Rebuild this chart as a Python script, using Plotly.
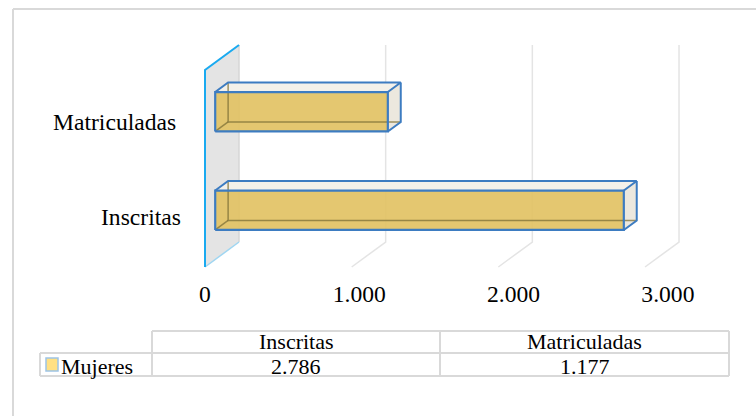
import plotly.graph_objects as go

# ---------------- data ----------------
categories = ["Inscritas", "Matriculadas"]
values = [2786, 1177]
series_name = "Mujeres"
x_ticks = [0, 1000, 2000, 3000]

# ---------------- geometry (pixels) ----------------
W, H = 756, 416
X0_PX = 205.0          # value 0 on the front plane
PX_PER_UNIT = 0.14667  # pixels per value unit
LABEL_PX_PER_UNIT = 0.1543  # spacing of the value labels
FLOOR_PX = 267.0       # front floor edge
PX_PER_CAT = 98.5      # pixels per category band
DEPTH_DX_PX = 34.0
DEPTH_DY_PX = 25.0
DX = DEPTH_DX_PX / PX_PER_UNIT
DY = DEPTH_DY_PX / PX_PER_CAT
BAR_HALF = 0.2
D_FRONT, D_BACK = 0.3, 0.68

FONT = "Liberation Serif, Times New Roman, serif"
FS = 23.6
FS_TABLE = 22

GOLD = "rgba(225,193,96,0.9)"
TOP = "#f4f1ea"
SIDE = "#ece8de"
BLUE = "#3d7cc1"
OLIVE = "rgba(125,112,55,0.75)"
GRID = "#e4e4e4"
BORDER = "#d9d9d9"


def P(v, c, d):
    return (v + d * DX, c + d * DY)


fig = go.Figure()


def poly(pts, fill):
    xs = [p[0] for p in pts] + [pts[0][0]]
    ys = [p[1] for p in pts] + [pts[0][1]]
    fig.add_trace(go.Scatter(x=xs, y=ys, mode="none", fill="toself", fillcolor=fill,
                             hoverinfo="skip", showlegend=False))


def seg(pts, color, width):
    fig.add_trace(go.Scatter(x=[p[0] for p in pts], y=[p[1] for p in pts], mode="lines",
                             line=dict(color=color, width=width), hoverinfo="skip",
                             showlegend=False))


ncat = len(categories)

# side wall
poly([P(0, 0, 0), P(0, 0, 1), P(0, ncat, 1), P(0, ncat, 0)], "#e4e4e4")
seg([P(0, 0, 1), P(0, ncat, 1)], "#d6d6d6", 1.5)
seg([P(0, 0, 0), P(0, 0, 1)], "#9fd6f2", 1.5)
seg([P(0, ncat, 1), P(0, ncat, 0), P(0, 0, 0)], "#1aaaf0", 2)

# gridlines (back wall + floor)
for t in x_ticks[1:]:
    seg([P(t, ncat, 1), P(t, 0, 1), P(t, 0, 0)], GRID, 1.5)

# bars
for i, (cat, v) in enumerate(zip(categories, values)):
    c0, c1 = i + 0.5 - BAR_HALF, i + 0.5 + BAR_HALF
    poly([P(0, c1, D_FRONT), P(0, c1, D_BACK), P(v, c1, D_BACK), P(v, c1, D_FRONT)], TOP)
    poly([P(v, c0, D_FRONT), P(v, c1, D_FRONT), P(v, c1, D_BACK), P(v, c0, D_BACK)], SIDE)
    poly([P(0, c0, D_FRONT), P(v, c0, D_FRONT), P(v, c1, D_FRONT), P(0, c1, D_FRONT)], GOLD)
    seg([P(0, c1, D_BACK), P(0, c0, D_BACK), P(v, c0, D_BACK)], OLIVE, 1.5)
    seg([P(0, c0, D_FRONT), P(0, c0, D_BACK)], OLIVE, 1.5)
    seg([P(0, c1, D_FRONT), P(0, c1, D_BACK), P(v, c1, D_BACK), P(v, c1, D_FRONT)], BLUE, 2)
    seg([P(v, c1, D_BACK), P(v, c0, D_BACK), P(v, c0, D_FRONT)], BLUE, 2)
    seg([P(0, c0, D_FRONT), P(v, c0, D_FRONT), P(v, c1, D_FRONT), P(0, c1, D_FRONT),
         P(0, c0, D_FRONT)], BLUE, 2.2)


def px(x):
    return x / W


def py(y):
    return 1 - y / H


annotations = []
cat_label_pos = {"Inscritas": (183, 217), "Matriculadas": (178, 122)}
for cat in categories:
    xr, yc = cat_label_pos[cat]
    annotations.append(dict(x=px(xr), y=py(yc), xref="paper", yref="paper",
                            text=cat, showarrow=False, xanchor="right", yanchor="middle",
                            font=dict(family=FONT, size=FS, color="black")))

# data table
tx = [40, 152, 440, 729]
ty = [331, 353, 376]
HEADER_Y, ROW_Y = 341, 366
shapes = []


def line(x0, y0, x1, y1, color=BORDER, w=2):
    shapes.append(dict(type="line", xref="paper", yref="paper", x0=px(x0), y0=py(y0),
                       x1=px(x1), y1=py(y1), line=dict(color=color, width=w)))


line(tx[1], ty[0], tx[3], ty[0])
line(tx[0], ty[1], tx[3], ty[1])
line(tx[0], ty[2], tx[3], ty[2])
line(tx[0], ty[1], tx[0], ty[2])
for xx in tx[1:]:
    line(xx, ty[0], xx, ty[2])

# outer chart frame
line(13, H + 5, 13, 9)
line(13, 9, W + 5, 9)

# legend key
shapes.append(dict(type="rect", xref="paper", yref="paper", x0=px(46), x1=px(58),
                   y0=py(358), y1=py(371), fillcolor="#ffe083",
                   line=dict(color="#9dc3e6", width=1.5)))

for j, cat in enumerate(categories):
    cx = (tx[j + 1] + tx[j + 2]) / 2
    annotations.append(dict(x=px(cx), y=py(HEADER_Y), xref="paper", yref="paper",
                            text=cat, showarrow=False, xanchor="center", yanchor="middle",
                            borderpad=0,
                            font=dict(family=FONT, size=FS_TABLE, color="black")))
    annotations.append(dict(x=px(cx), y=py(ROW_Y), xref="paper", yref="paper",
                            text=f"{values[j]:,}".replace(",", "."), showarrow=False,
                            xanchor="center", yanchor="middle", borderpad=0,
                            font=dict(family=FONT, size=FS_TABLE, color="black")))
annotations.append(dict(x=px(60), y=py(ROW_Y), xref="paper", yref="paper",
                        text=series_name, showarrow=False, xanchor="left", yanchor="middle",
                        borderpad=0, font=dict(family=FONT, size=FS_TABLE, color="black")))

fig.update_layout(
    width=W, height=H, margin=dict(l=0, r=0, t=0, b=0),
    paper_bgcolor="white", plot_bgcolor="white",
    separators=",.",
    showlegend=False,
    xaxis=dict(range=[-X0_PX / PX_PER_UNIT, (W - X0_PX) / PX_PER_UNIT], domain=[0, 1],
               visible=False),
    xaxis2=dict(range=[-X0_PX / LABEL_PX_PER_UNIT, (W - X0_PX) / LABEL_PX_PER_UNIT],
                domain=[0, 1], overlaying="x", anchor="free", position=(H - 277) / H,
                side="bottom", tickvals=x_ticks, tickformat=",d", ticks="", showgrid=False,
                zeroline=False, showline=False,
                tickfont=dict(family=FONT, size=FS, color="black")),
    yaxis=dict(range=[-(H - FLOOR_PX) / PX_PER_CAT, FLOOR_PX / PX_PER_CAT], domain=[0, 1],
               visible=False),
    annotations=annotations,
    shapes=shapes,
)
# invisible trace so the label axis is drawn
fig.add_trace(go.Scatter(x=[x_ticks[0]], y=[0], xaxis="x2", mode="markers",
                         marker=dict(opacity=0), hoverinfo="skip", showlegend=False))

fig.write_html("out.html", config={"displayModeBar": False, "staticPlot": True},
               post_script="document.body.style.margin='0px';")
